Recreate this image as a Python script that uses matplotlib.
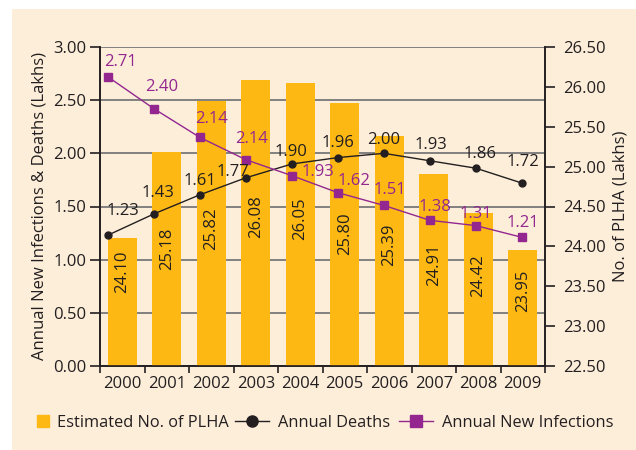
import matplotlib
matplotlib.use("Agg")
import matplotlib.pyplot as plt
from matplotlib.patches import Rectangle
from matplotlib.lines import Line2D

plt.rcParams['font.family'] = ['Open Sans', 'DejaVu Sans']

years = ['2000', '2001', '2002', '2003', '2004', '2005', '2006', '2007', '2008', '2009']
plha = [24.10, 25.18, 25.82, 26.08, 26.05, 25.80, 25.39, 24.91, 24.42, 23.95]
deaths = [1.23, 1.43, 1.61, 1.77, 1.90, 1.96, 2.00, 1.93, 1.86, 1.72]
deaths_labels = ['1.23', '1.43', '1.61', '1.77', '1.90', '1.96', '2.00', '1.93', '1.86', '1.72']
new_inf = [2.72, 2.42, 2.15, 1.94, 1.79, 1.63, 1.51, 1.37, 1.32, 1.21]
new_inf_labels = ['2.71', '2.40', '2.14', '2.14', '1.93', '1.62', '1.51', '1.38', '1.31', '1.21']

# label nudges in pixels (dx, dy)
deaths_off = [(15, 24), (4, 21), (0, 14), (-13, 6), (-1, 12), (0, 15), (0, 13), (1, 16), (4, 14), (1, 21)]
inf_off = [(13, 15), (8, 22), (12, 18), (6, 21), (26, 4), (16, 12), (6, 15), (5, 13), (0, 12), (1, 14)]
bar_lab_drop = [33, 97, 128, 136, 136, 131, 109, 91, 63, 40]

orange = '#FDB813'
purple = '#93278F'
cream = '#FDEEDA'
dark = '#231F20'

fig = plt.figure(figsize=(6.36, 4.5), dpi=100)
fig.patch.set_facecolor('white')
bg = Rectangle((12 / 636, 0), 1, 441 / 450, transform=fig.transFigure,
               facecolor=cream, edgecolor='none', zorder=-10)
fig.add_artist(bg)

pos = [100 / 636, 84 / 450, 445 / 636, 319 / 450]
x = list(range(len(years)))

# left axis: grid + ticks
ax = fig.add_axes(pos)
ax.set_facecolor('none')
ax.set_xlim(-0.5, 9.5)
ax.set_ylim(0, 3)
ax.set_yticks([0, 0.5, 1, 1.5, 2, 2.5, 3])
ax.set_yticklabels(['%.2f' % v for v in ax.get_yticks()])
ax.yaxis.grid(True, color='#6D6E71', linewidth=1.2)
ax.set_axisbelow(True)
ax.set_xticks([i - 0.5 for i in range(len(years) + 1)])
ax.set_xticklabels([])
ax.set_xticks(x, minor=True)
ax.set_xticklabels(years, minor=True)
ax.tick_params(axis='x', which='major', direction='out', length=5, width=1.2, color=dark)
ax.tick_params(axis='x', which='minor', length=0, pad=7)
ax.tick_params(axis='y', direction='out', length=7, width=1.2, color=dark, pad=3)
ax.tick_params(which='both', labelsize=12, labelcolor=dark)
for s in ['left', 'bottom', 'right']:
    ax.spines[s].set_color(dark)
    ax.spines[s].set_linewidth(1.2)
ax.spines['top'].set_visible(False)
ax.set_ylabel('Annual New Infections & Deaths (Lakhs)', fontsize=12, color=dark, labelpad=4)

# right axis: bars
ax2 = ax.twinx()
ax2.bar(x, plha, width=0.65, color=orange, zorder=2)
ax2.set_ylim(22.5, 26.5)
ax2.set_yticks([22.5 + 0.5 * i for i in range(9)])
ax2.set_yticklabels(['%.2f' % v for v in ax2.get_yticks()])
ax2.tick_params(axis='y', direction='out', length=7, width=1.2, color=dark, labelsize=12,
                labelcolor=dark, pad=6)
for s in ['left', 'bottom', 'right']:
    ax2.spines[s].set_color(dark)
    ax2.spines[s].set_linewidth(1.2)
ax2.spines['top'].set_visible(False)
ax2.set_ylabel('No. of PLHA (Lakhs)', fontsize=12, color=dark, labelpad=5)
for xi, v, d in zip(x, plha, bar_lab_drop):
    ax2.annotate('%.2f' % v, (xi, v), xytext=(0, -d), textcoords='offset pixels',
                 rotation=90, ha='center', va='center', fontsize=12, color=dark)

# overlay: lines
ax3 = fig.add_axes(pos)
ax3.set_facecolor('none')
ax3.set_xlim(-0.17, 9.5)
ax3.set_ylim(0, 3)
ax3.axis('off')
ax3.plot(x, deaths, color=dark, linewidth=1, marker='o', markersize=5)
ax3.plot(x, new_inf, color=purple, linewidth=1, marker='s', markersize=6)
for xi, v, t, (dx, dy) in zip(x, deaths, deaths_labels, deaths_off):
    ax3.annotate(t, (xi, v), xytext=(dx, dy), textcoords='offset pixels',
                 ha='center', va='center', fontsize=12, color=dark)
for xi, v, t, (dx, dy) in zip(x, new_inf, new_inf_labels, inf_off):
    ax3.annotate(t, (xi, v), xytext=(dx, dy), textcoords='offset pixels',
                 ha='center', va='center', fontsize=12, color=purple)

# legend: three pieces so each handle can have its own length
leg_items = [
    (Line2D([], [], marker='s', color=orange, linestyle='none', markersize=9),
     'Estimated No. of PLHA', 37, 0.7, 0.5),
    (Line2D([], [], marker='o', color=dark, linewidth=1, markersize=8),
     'Annual Deaths', 235, 2.1, 0.5),
    (Line2D([], [], marker='s', color=purple, linewidth=1, markersize=8),
     'Annual New Infections', 399, 2.1, 0.5),
]
for h, lab, px, hl, tp in leg_items:
    lg = fig.legend([h], [lab], loc='center left', bbox_to_anchor=(px / 636, 27 / 450),
                    frameon=False, fontsize=11.8, handlelength=hl, handletextpad=tp,
                    borderpad=0, borderaxespad=0, labelcolor=dark)

fig.savefig('out.png', dpi=100)
